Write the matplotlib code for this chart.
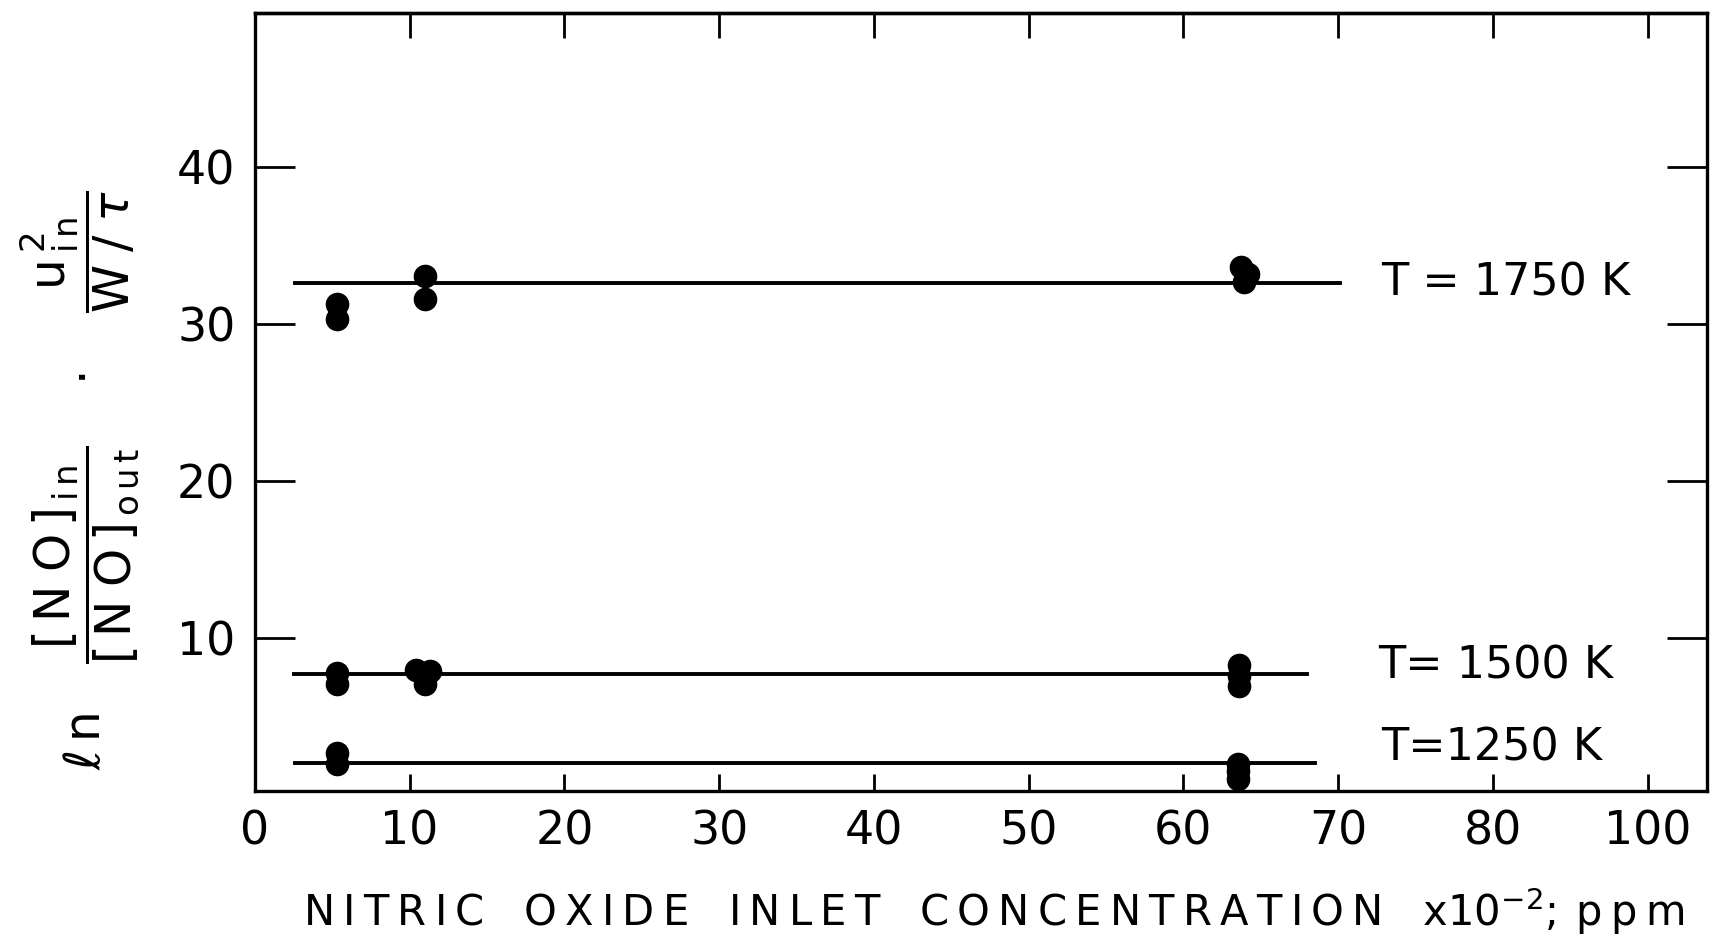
import numpy as np
import matplotlib
matplotlib.use('Agg')
import matplotlib.pyplot as plt

plt.rcParams['mathtext.fontset'] = 'dejavusans'

# measured points, grouped by reactor temperature
x1750 = [5.3, 5.3, 11.0, 11.0, 63.7, 64.2, 63.9]
y1750 = [31.25, 30.3, 33.05, 31.6, 33.6, 33.2, 32.7]
x1500 = [5.3, 5.3, 10.4, 11.3, 11.0, 11.0, 63.6, 63.6, 63.6]
y1500 = [7.78, 7.06, 7.95, 7.9, 7.4, 7.05, 8.27, 7.6, 6.96]
x1250 = [5.3, 5.3, 63.5, 63.5, 63.5]
y1250 = [2.7, 2.0, 1.95, 1.5, 1.0]

# mean value lines: (x start, x end, level)
fit1750 = (2.6, 70.1, 32.6)
fit1500 = (2.5, 68.0, 7.7)
fit1250 = (2.6, 68.5, 2.05)

xticks = [0, 10, 20, 30, 40, 50, 60, 70, 80, 90]
xticklabels = ['0', '10', '20', '30', '40', '50', '60', '70', '80', '100']
yticks = [10, 20, 30, 40]


def spread(words, gap='   '):
    # wide lettering: thin space between letters, several spaces between words
    return gap.join('\u2009'.join(w) for w in words)


fig = plt.figure(figsize=(17.22, 9.43), dpi=100)
ax = fig.add_axes([0.148, 0.1617, 0.843, 0.8243])

for xs, ys, fit in [(x1750, y1750, fit1750), (x1500, y1500, fit1500), (x1250, y1250, fit1250)]:
    ax.plot([fit[0], fit[1]], [fit[2], fit[2]], 'k-', lw=2.8)
    ax.plot(xs, ys, 'ko', ms=16)

ax.text(72.8, 32.6, 'T = 1750 K', fontsize=32, va='center')
ax.text(72.6, 8.2, 'T= 1500 K', fontsize=32, va='center')
ax.text(72.8, 3.0, 'T=1250 K', fontsize=32, va='center')

ax.set_xlim(0, 93.8)
ax.set_ylim(0.28, 49.8)
ax.set_xticks(xticks)
ax.set_xticklabels(xticklabels)
ax.set_yticks(yticks)

for s in ax.spines.values():
    s.set_linewidth(2.4)
ax.tick_params(axis='y', direction='in', length=29, width=2, right=True, labelsize=33, pad=14)
ax.tick_params(axis='x', direction='in', length=12, width=2, labelsize=33, pad=14)

# top ticks are drawn longer than the bottom ones
top = ax.secondary_xaxis('top')
top.set_xticks(xticks)
top.tick_params(direction='in', length=18, width=2, labeltop=False)
top.spines['top'].set_linewidth(2.4)

xlab = spread(['NITRIC', 'OXIDE', 'INLET', 'CONCENTRATION']) + '   x10$^{-2}$;\u2009\u2009p\u2009p\u2009m'
ax.set_xlabel(xlab, fontsize=30)
ax.xaxis.set_label_coords(0.509, -0.122)

ylab = (r'$\ell\,\mathrm{n}\quad'
        r'\dfrac{[\,\mathrm{N}\;\mathrm{O}\,]_{\,\mathrm{i\,n}}}{[\,\mathrm{N}\;\mathrm{O}\,]_{\,\mathrm{o\,u\,t}}}'
        r'\quad\cdot\quad'
        r'\dfrac{\mathrm{u}^{\,2}_{\,\mathrm{i\,n}}}{\mathrm{W}\;/\;\tau}$')
ax.set_ylabel(ylab, fontsize=35)
ax.yaxis.set_label_coords(-0.078, 0.40)

fig.savefig('out.png', dpi=100)
